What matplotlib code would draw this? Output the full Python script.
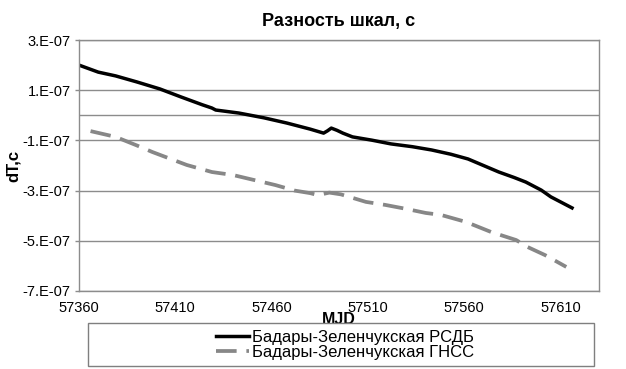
import numpy as np
import matplotlib
matplotlib.use("Agg")
import matplotlib.pyplot as plt
from matplotlib.ticker import FixedLocator, FuncFormatter
from matplotlib.patches import Rectangle

plt.rcParams['font.family'] = ['Liberation Sans', 'DejaVu Sans']

# dT values in units of 1e-7 s
mjd_rsdb = [57360, 57370, 57379, 57390, 57402, 57413, 57424, 57429, 57431, 57443,
            57456, 57468, 57480, 57487, 57489, 57491, 57494, 57497, 57502, 57512,
            57522, 57533, 57543, 57553, 57562, 57570, 57578, 57586, 57592, 57600,
            57605, 57610, 57616]
dt_rsdb = [2.00, 1.72, 1.57, 1.33, 1.05, 0.73, 0.42, 0.29, 0.21, 0.09,
           -0.10, -0.31, -0.55, -0.71, -0.62, -0.51, -0.60, -0.71, -0.86, -0.99,
           -1.14, -1.25, -1.38, -1.55, -1.74, -2.00, -2.26, -2.48, -2.66, -2.98,
           -3.25, -3.45, -3.69]

mjd_gnss = [57366, 57379, 57390, 57398, 57408, 57416, 57429, 57440, 57451, 57462,
            57472, 57480, 57484, 57490, 57496, 57509, 57519, 57530, 57540, 57548,
            57561, 57574, 57587, 57593, 57602, 57613]
dt_gnss = [-0.63, -0.86, -1.20, -1.46, -1.75, -1.98, -2.26, -2.38, -2.58, -2.78,
           -3.00, -3.10, -3.18, -3.08, -3.15, -3.45, -3.57, -3.73, -3.89, -3.97,
           -4.25, -4.65, -4.97, -5.25, -5.57, -6.04]

labels = ["Бадары-Зеленчукская РСДБ", "Бадары-Зеленчукская ГНСС"]
title = "Разность шкал, с"
xticks = [57360, 57410, 57460, 57510, 57560, 57610]
yticks = [3, 1, -1, -3, -5, -7]

grid_c = "#8c8c8c"
gray = "#878787"

fig = plt.figure(figsize=(6.26, 3.69), dpi=100)
ax = fig.add_axes([79/626, 1-291/369, 520/626, 251/369])

scale = 1e-7
ax.plot(mjd_rsdb, np.array(dt_rsdb)*scale, color="black", lw=2.5, label=labels[0])
ax.plot(mjd_gnss, np.array(dt_gnss)*scale, color=gray, lw=2.7, dashes=(5.5, 2.6),
        label=labels[1])

ax.set_xlim(57360, 57630)
ax.set_ylim(-7e-7, 3e-7)
for v in yticks:
    ax.axhline(v*scale, color=grid_c, lw=1.0, zorder=0)
ax.axhline(0, color=grid_c, lw=1.0, zorder=0)

ax.yaxis.set_major_locator(FixedLocator([v*scale for v in yticks]))
ax.yaxis.set_major_formatter(FuncFormatter(lambda v, p: f"{round(v/scale):d}.E-07"))
ax.xaxis.set_major_locator(FixedLocator(xticks))
ax.tick_params(axis='y', length=3, width=1, color=grid_c, pad=3, labelsize=10.5)
ax.tick_params(axis='x', length=0, pad=7, labelsize=10.5)
for s in ax.spines.values():
    s.set_color(grid_c)
    s.set_linewidth(1.0)

ax.set_title(title, fontsize=13, fontweight='bold', pad=10)
ax.set_xlabel("MJD", fontsize=11.5, fontweight='bold', labelpad=-2)
ax.set_ylabel("dT,c", fontsize=12, fontweight='bold', labelpad=1)

fig.patches.append(Rectangle((88/626, 1-366/369), 506/626, 43/369,
                             transform=fig.transFigure, fill=False,
                             edgecolor="#7f7f7f", lw=1.0))
fig.legend(loc='center', bbox_to_anchor=(345/626, 1-345/369), frameon=False,
           fontsize=12, handlelength=2.0, handletextpad=0.2, labelspacing=0.0,
           borderpad=0)

fig.savefig("out.png", dpi=100)
